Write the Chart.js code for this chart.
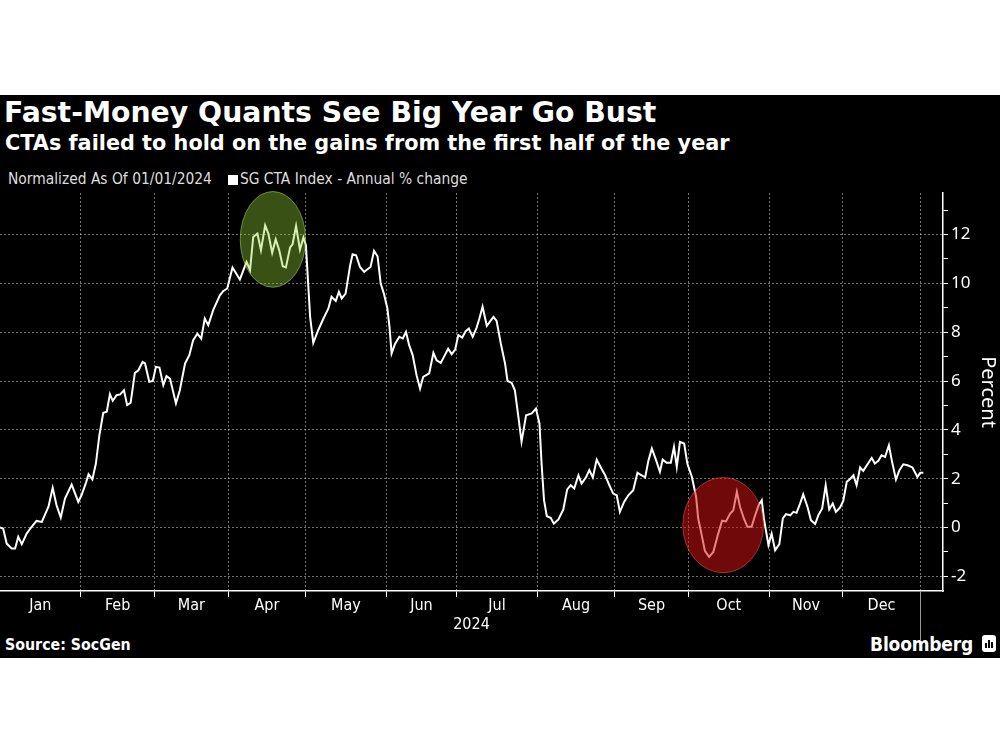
<!DOCTYPE html>
<html>
<head>
<meta charset="utf-8">
<script src="https://cdn.jsdelivr.net/npm/chart.js@4.4.1/dist/chart.umd.min.js"></script>
<style>
  body { margin: 0; width: 1000px; height: 750px; background: #fff; position: relative; overflow: hidden; }
  #panel { position: absolute; left: 0; top: 95px; width: 1000px; height: 563px; background: #000; }
  .txt { position: absolute; white-space: nowrap; color: #fff; }
  #title { left: 4px; top: 97px; font: bold 28.3px/32px "DejaVu Sans", sans-serif; }
  #subtitle { left: 5px; top: 131px; font: bold 20.8px/24px "DejaVu Sans", sans-serif; }
  #legend { left: 8px; top: 170px; font: 15.4px/18px "Liberation Sans Narrow", "DejaVu Sans Condensed", "DejaVu Sans", sans-serif; color: #ddd; }
  #legend .sq { display: inline-block; width: 10px; height: 10px; background: #fff; margin: 0 2px 0 16px; vertical-align: -1px; }
  #source { left: 5px; top: 636px; font: bold 15.8px/18px "DejaVu Sans Condensed", "DejaVu Sans", sans-serif; }
  #brand { right: 27px; top: 632px; font: bold 19px/24px "Liberation Sans Narrow", "DejaVu Sans Condensed", "DejaVu Sans", sans-serif; letter-spacing: -0.2px; }
  #logo { position: absolute; left: 982px; top: 635px; width: 14px; height: 17px; background: #fff; border-radius: 3px; }
  #logo i { position: absolute; bottom: 4px; width: 2px; background: #000; }
  #chartBox { position: absolute; left: 0; top: 190px; width: 1000px; height: 460px; }
</style>
</head>
<body>
<div id="panel"></div>
<div class="txt" id="title">Fast-Money Quants See Big Year Go Bust</div>
<div class="txt" id="subtitle">CTAs failed to hold on the gains from the first half of the year</div>
<div class="txt" id="legend">Normalized As Of 01/01/2024<span class="sq"></span>SG CTA Index - Annual % change</div>
<div class="txt" id="source">Source: SocGen</div>
<div class="txt" id="brand">Bloomberg</div>
<div id="logo"><i style="left:3px;height:5px"></i><i style="left:6px;height:8px"></i><i style="left:9px;height:6px"></i></div>
<div id="chartBox"><canvas id="chart" width="1000" height="460"></canvas></div>

<script>
// trading-day index since 01/01/2024 and the index's % change
const tradingDay = [
  0.0, 0.9, 1.9, 3.3, 4.3, 5.2, 6.2, 7.6, 9.0, 10.4, 11.9, 13.8, 15.0, 16.1, 17.3, 18.5,
  20.4, 22.3, 23.2, 24.5, 25.2, 26.3, 27.3, 28.3, 29.4, 30.4, 31.3, 32.1, 33.2, 34.2, 35.3,
  36.2, 37.2, 38.4, 39.4, 40.6, 41.3, 42.5, 43.5, 44.4, 45.4, 46.5, 47.4, 48.4, 50.1, 51.2,
  52.7, 53.9, 55.0, 56.2, 57.3, 58.3, 59.3, 60.7, 62.6, 63.6, 64.7, 66.2, 68.3, 70.2, 71.2,
  72.1, 73.3, 74.3, 75.5, 76.4, 77.5, 78.5, 79.5, 80.5, 81.4, 82.6, 83.3, 84.3, 85.4, 86.4,
  87.1, 88.3, 89.2, 90.6, 92.1, 93.5, 94.4, 95.6, 96.5, 97.3, 98.4, 99.7, 100.4, 101.4,
  102.5, 103.7, 104.9, 105.5, 106.5, 107.5, 108.4, 109.3, 110.3, 110.9, 111.5, 112.5, 113.7,
  114.7, 115.6, 116.5, 117.5, 118.6, 119.6, 120.5, 122.2, 123.4, 124.3, 125.5, 126.4, 127.6,
  128.6, 129.6, 130.5, 131.6, 132.6, 133.5, 134.6, 135.7, 136.5, 137.4, 138.6, 140.5, 141.4,
  142.6, 143.8, 144.5, 145.7, 146.6, 147.6, 148.5, 149.8, 151.4, 152.6, 153.6, 154.2, 154.9,
  155.7, 156.8, 157.7, 159.0, 160.4, 161.5, 162.5, 163.5, 164.7, 165.6, 166.9, 167.8, 168.8,
  169.9, 171.0, 172.3, 173.5, 174.6, 175.6, 176.5, 177.7, 178.9, 180.3, 181.5, 182.7, 183.7,
  184.6, 185.6, 186.8, 187.9, 188.7, 189.8, 191.0, 191.9, 192.7, 193.6, 194.8, 195.7, 197.0,
  198.2, 198.8, 199.8, 200.7, 201.9, 203.1, 204.4, 205.6, 206.7, 207.9, 208.8, 209.8, 210.7,
  211.8, 212.8, 214.0, 215.0, 216.0, 216.9, 217.5, 218.8, 219.7, 220.7, 221.9, 222.9, 223.8,
  225.0, 225.9, 226.8, 227.8, 228.7, 229.9, 230.9, 232.1, 233.0, 234.1, 235.1, 236.1, 237.1,
  238.0, 239.2, 240.1, 241.1, 242.2, 243.0, 243.9, 244.9, 245.8, 247.0, 248.2, 249.1, 250.1,
  251.0, 252.0, 253.1, 253.9, 255.1, 256.1, 257.2, 258.4, 259.8, 261.2, 262.0, 262.9
];
const ctaChange = [
  0.00, -0.04, -0.65, -0.86, -0.86, -0.38, -0.68, -0.25, 0.03, 0.27, 0.23, 0.85, 1.62, 0.91, 0.41, 1.19,
  1.76, 1.05, 1.32, 1.84, 2.18, 1.97, 2.62, 3.78, 4.70, 4.74, 5.46, 5.19, 5.42, 5.45, 5.62,
  5.01, 5.11, 6.33, 6.44, 6.78, 6.72, 5.97, 6.00, 6.58, 6.55, 5.83, 6.20, 6.10, 5.08, 5.62,
  6.72, 7.06, 7.67, 7.94, 7.74, 8.56, 8.29, 8.90, 9.51, 9.69, 9.79, 10.65, 10.16, 10.88, 10.54,
  11.90, 12.04, 11.36, 12.38, 12.04, 11.25, 11.80, 11.36, 10.70, 10.65, 11.47, 11.60, 12.35, 11.38, 11.88,
  11.56, 8.63, 7.56, 8.08, 8.56, 8.97, 9.45, 9.28, 9.65, 9.38, 9.58, 10.74, 11.19, 11.15,
  10.67, 10.47, 10.61, 10.67, 11.33, 11.11, 9.99, 9.58, 8.97, 8.22, 7.13, 7.53, 7.81,
  7.74, 8.01, 7.47, 7.06, 6.24, 5.69, 6.17, 6.31, 7.15, 6.85, 6.74, 6.99, 7.32,
  7.10, 7.29, 7.88, 7.78, 8.04, 8.15, 7.81, 8.19, 8.56, 9.04, 8.26, 8.63, 8.46,
  7.53, 6.72, 6.00, 5.92, 5.62, 4.53, 3.51, 4.60, 4.67, 4.87, 4.26, 2.62, 1.12,
  0.46, 0.40, 0.16, 0.33, 0.74, 1.56, 1.73, 1.60, 2.14, 1.80, 2.07, 2.35, 2.05,
  2.78, 2.48, 2.14, 1.73, 1.39, 1.32, 0.64, 1.05, 1.32, 1.53, 2.24, 2.14, 2.05,
  2.73, 3.24, 2.76, 2.28, 2.78, 2.65, 2.65, 3.30, 2.48, 3.51, 3.44, 2.62, 2.07,
  1.26, 0.37, -0.31, -0.96, -1.20, -1.00, -0.30, 0.28, 0.25, 0.57, 0.71, 1.46, 0.85,
  0.37, 0.03, 0.03, 0.50, 0.91, 1.12, 0.37, -0.72, -0.25, -0.93, -0.68, 0.37, 0.55,
  0.50, 0.64, 0.60, 0.98, 1.36, 0.85, 0.30, 0.14, 0.50, 0.78, 1.73, 0.74, 0.98,
  0.64, 0.82, 1.09, 1.87, 2.01, 2.14, 1.73, 2.46, 2.32, 2.59, 2.85, 2.62, 2.73,
  2.96, 2.89, 3.37, 2.76, 1.97, 2.35, 2.59, 2.55, 2.46, 2.07, 2.24, 2.24
];
const monthNames = ["Jan", "Feb", "Mar", "Apr", "May", "Jun", "Jul", "Aug", "Sep", "Oct", "Nov", "Dec"];
// first trading day of each month (plus year end)
const monthStarts = [0, 23, 44, 65, 87, 110, 130, 153, 175, 196, 219, 240, 262];
const percentTicks = [-2, -1, 0, 1, 2, 3, 4, 5, 6, 7, 8, 9, 10, 11, 12, 13];

// the two circled stretches: centre and half-size in data units
const circledSpans = [
  { day: 77.7, pct: 11.8, halfDays: 9.3, halfPct: 1.96, tone: "green" },
  { day: 205.9, pct: 0.1, halfDays: 11.5, halfPct: 1.95, tone: "red" },
];

const GRID = "rgba(190,190,190,0.6)";
const NARROW = "'Liberation Sans Narrow', 'DejaVu Sans Condensed', 'DejaVu Sans', sans-serif";
const TONES = {
  green: { fill: "rgba(150,212,55,0.38)", edge: "rgba(170,220,90,0.55)" },
  red: { fill: "rgba(215,20,20,0.52)", edge: "rgba(240,80,80,0.55)" },
};

function monthMid(i) {
  return (monthStarts[i] + monthStarts[i + 1]) / 2;
}

function isMonthStart(v) {
  return monthStarts.includes(v);
}

const circlePlugin = {
  id: "circles",
  afterDatasetsDraw(chart) {
    const { ctx, scales } = chart;
    const x = scales.x, y = scales.y;
    for (const c of circledSpans) {
      const cx = x.getPixelForValue(c.day);
      const cy = y.getPixelForValue(c.pct);
      const rx = Math.abs(x.getPixelForValue(c.day + c.halfDays) - cx);
      const ry = Math.abs(y.getPixelForValue(c.pct + c.halfPct) - cy);
      ctx.save();
      ctx.beginPath();
      ctx.ellipse(cx, cy, rx, ry, 0, 0, Math.PI * 2);
      ctx.fillStyle = TONES[c.tone].fill;
      ctx.fill();
      ctx.strokeStyle = TONES[c.tone].edge;
      ctx.lineWidth = 1;
      ctx.stroke();
      ctx.restore();
    }
  },
};

// long tick marking the year end under the axis
const yearEndPlugin = {
  id: "yearEnd",
  afterDraw(chart) {
    const { ctx, chartArea, scales } = chart;
    const px = Math.round(scales.x.getPixelForValue(monthStarts[12])) + 0.5;
    ctx.save();
    ctx.strokeStyle = "#9a9a9a";
    ctx.lineWidth = 1;
    ctx.beginPath();
    ctx.moveTo(px, chartArea.bottom);
    ctx.lineTo(px, chartArea.bottom + 50);
    ctx.stroke();
    ctx.restore();
  },
};

new Chart(document.getElementById("chart"), {
  type: "line",
  data: {
    datasets: [
      {
        label: "SG CTA Index - Annual % change",
        data: tradingDay.map((d, i) => ({ x: d, y: ctaChange[i] })),
        borderColor: "#ffffff",
        borderWidth: 2,
        pointRadius: 0,
        tension: 0,
        fill: false,
      },
    ],
  },
  options: {
    responsive: false,
    animation: false,
    devicePixelRatio: 1,
    layout: { padding: { top: 3, bottom: 15, left: 0, right: 0 } },
    plugins: { legend: { display: false }, tooltip: { enabled: false } },
    scales: {
      x: {
        type: "linear",
        min: 0,
        max: 268.5,
        afterBuildTicks(scale) {
          const t = [];
          monthStarts.forEach((d, i) => {
            t.push({ value: d });
            if (i < 12) t.push({ value: monthMid(i) });
          });
          scale.ticks = t;
        },
        afterFit(scale) {
          scale.height = 44;
          scale.paddingLeft = 0;
          scale.paddingRight = 0;
        },
        ticks: {
          autoSkip: false,
          maxRotation: 0,
          color: "#ffffff",
          padding: -1,
          font: { family: NARROW, size: 16 },
          callback(v) {
            for (let i = 0; i < 12; i++) if (monthMid(i) === v) return monthNames[i];
            return "";
          },
        },
        grid: {
          color(ctx) {
            const v = ctx.tick ? ctx.tick.value : null;
            return isMonthStart(v) && v > 0 ? GRID : "rgba(0,0,0,0)";
          },
          tickColor(ctx) {
            const v = ctx.tick ? ctx.tick.value : null;
            return isMonthStart(v) && v > 0 ? "#ffffff" : "rgba(0,0,0,0)";
          },
          tickLength: 6,
          lineWidth: 1,
        },
        border: { color: "#ffffff", width: 1.5, dash: [2, 2] },
        title: {
          display: true,
          text: "2024",
          color: "#ffffff",
          font: { family: NARROW, size: 16 },
          padding: { top: 0, bottom: 1 },
        },
      },
      y: {
        position: "right",
        min: -2.6,
        max: 13.7,
        afterBuildTicks(scale) {
          scale.ticks = percentTicks.map((v) => ({ value: v }));
        },
        afterFit(scale) {
          scale.width = 57;
          scale.paddingTop = 0;
          scale.paddingBottom = 0;
        },
        ticks: {
          autoSkip: false,
          color: "#ffffff",
          padding: 3,
          font: { family: "'Noto Sans', sans-serif", size: 17 },
          callback(v) {
            return v % 2 === 0 ? String(v) : "";
          },
        },
        grid: {
          color(ctx) {
            return ctx.tick && ctx.tick.value % 2 === 0 ? GRID : "rgba(0,0,0,0)";
          },
          tickColor: "#ffffff",
          tickLength: 5,
          lineWidth: 1,
        },
        border: { color: "#ffffff", width: 1.5, dash: [2, 2] },
        title: {
          display: true,
          text: "Percent",
          color: "#ffffff",
          font: { family: "'Noto Sans', sans-serif", size: 20 },
          padding: { top: 0, bottom: 2 },
        },
      },
    },
  },
  plugins: [circlePlugin, yearEndPlugin],
});
</script>
</body>
</html>
